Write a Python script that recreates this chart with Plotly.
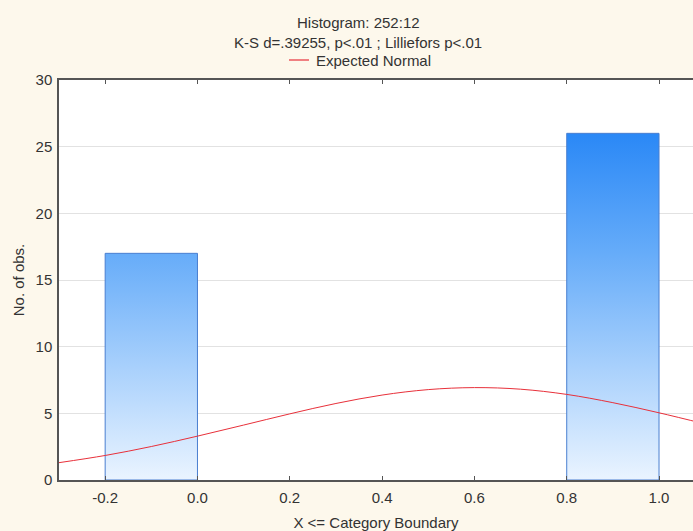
import plotly.graph_objects as go

# Data
bin_left = [-0.2, 0.8]
bin_right = [0.0, 1.0]
counts = [17, 26]

curve_x = [-0.3, -0.2, -0.1, 0.0, 0.1, 0.2, 0.3, 0.4, 0.5, 0.6, 0.7, 0.8, 0.9, 1.0, 1.1]
curve_y = [1.30, 1.84, 2.51, 3.29, 4.12, 4.96, 5.74, 6.37, 6.78, 6.93, 6.81, 6.42, 5.80, 5.04, 4.20]

x_ticks = [-0.2, 0.0, 0.2, 0.4, 0.6, 0.8, 1.0]
y_ticks = [0, 5, 10, 15, 20, 25, 30]

title1 = "Histogram: 252:12"
title2 = "K-S d=.39255, p<.01 ; Lilliefors p<.01"
legend_name = "Expected Normal"
x_title = "X <= Category Boundary"
y_title = "No. of obs."

FONT = "Liberation Sans, Arial, sans-serif"
TXT = "#333333"
FS = 15

W, H = 693, 531
ML, MR, MT, MB = 59, 0, 80, 51
PH = H - MT - MB
PW = W - ML - MR


def px_x(p):
    return (p - ML) / PW


def px_y(p):
    return (H - MB - p) / PH


fig = go.Figure()

for l, r, c in zip(bin_left, bin_right, counts):
    fig.add_trace(go.Scatter(
        x=[l, l, r, r, l], y=[0, c, c, 0, 0],
        mode="lines", fill="toself",
        line=dict(color="#4a7fd0", width=1),
        fillgradient=dict(type="vertical", start=0, stop=26,
                          colorscale=[[0, "#eaf4ff"], [0.654, "#66acf9"], [1, "#2a88f6"]]),
        showlegend=False, hoverinfo="skip",
    ))

fig.add_trace(go.Scatter(
    x=curve_x, y=curve_y, mode="lines", line=dict(color="#e8303a", width=1, shape="spline"),
    name=legend_name, showlegend=False, hoverinfo="skip",
))

fig.update_layout(
    width=W, height=H,
    margin=dict(l=ML, r=MR, t=MT, b=MB),
    paper_bgcolor="#fdf8ec", plot_bgcolor="#ffffff",
    font=dict(family=FONT, size=FS, color=TXT),
    showlegend=False,
    annotations=[
        dict(text=title1, xref="paper", yref="paper", x=px_x(358), y=px_y(23), xanchor="center",
             yanchor="middle", showarrow=False, font=dict(size=FS, color=TXT)),
        dict(text=title2, xref="paper", yref="paper", x=px_x(358), y=px_y(42), xanchor="center",
             yanchor="middle", showarrow=False, font=dict(size=FS, color=TXT)),
        dict(text=legend_name, xref="paper", yref="paper", x=px_x(314), y=px_y(61), xanchor="left",
             yanchor="middle", showarrow=False, font=dict(size=FS, color=TXT)),
    ],
    shapes=[
        dict(type="line", xref="paper", yref="paper", x0=px_x(289), x1=px_x(309),
             y0=px_y(60), y1=px_y(60), line=dict(color="#e8303a", width=1.2)),
    ],
)

fig.update_xaxes(
    range=[-0.3, 1.0736], tickvals=x_ticks, ticktext=[f"{v:.1f}" for v in x_ticks],
    showgrid=False, zeroline=False, showline=True, linecolor="#555555", linewidth=1.5,
    mirror="ticks", ticks="inside", ticklen=4, tickcolor="#555555", ticklabelstandoff=3,
    title=dict(text=x_title, standoff=13, font=dict(size=FS, color=TXT)),
    tickfont=dict(size=FS, color=TXT),
)
fig.update_yaxes(
    range=[0, 30], tickvals=y_ticks,
    showgrid=True, gridcolor="#e2e2e2", gridwidth=1, zeroline=False,
    showline=True, linecolor="#555555", linewidth=1.5, mirror=False,
    ticks="", ticklabelstandoff=2,
    title=dict(text=y_title, standoff=7, font=dict(size=FS, color=TXT)),
    tickfont=dict(size=FS, color=TXT),
)

fig.write_html("out.html", config={"displayModeBar": False},
               post_script="document.body.style.margin='0';document.body.style.overflow='hidden';")
